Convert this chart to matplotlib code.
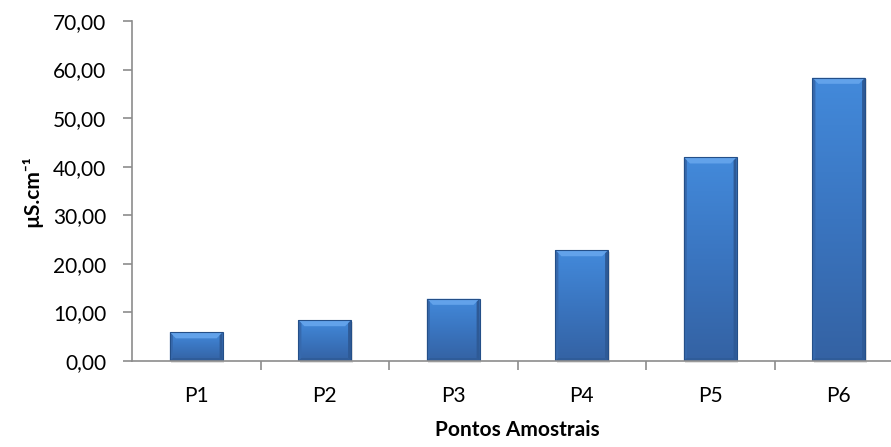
import numpy as np
import matplotlib.pyplot as plt
from matplotlib.patches import Polygon
from matplotlib.colors import LinearSegmentedColormap

# Dados
pontos = ["P1", "P2", "P3", "P4", "P5", "P6"]
condutividade = [5.9, 8.4, 12.8, 22.8, 41.9, 58.3]

plt.rcParams['font.family'] = ['Lato', 'DejaVu Sans']

fig = plt.figure(figsize=(8.91, 4.47), dpi=100)
ax = fig.add_axes([132/891, 1-361/447, 771/891, 340/447])

x = np.arange(len(pontos))
barras = ax.bar(x, condutividade, width=0.41, color='#3b7bc6',
                edgecolor='none', zorder=2)

# efeito de bisel (estilo Excel)
cmap = LinearSegmentedColormap.from_list('barra', ['#3462a3', '#3a75c0', '#438adb'])
grad = np.linspace(0, 1, 256).reshape(-1, 1)
px_x = 1/128.5
px_y = 70/340
b = 6
for r in barras:
    x0, y0 = r.get_x(), r.get_y()
    w, h = r.get_width(), r.get_height()
    bx, by = b*px_x, min(b*px_y, h/3)
    # sombra
    ax.add_patch(plt.Rectangle((x0+1.5*px_x, y0-1.5*px_y), w, h, color='#d0d0d0',
                               alpha=0.6, zorder=1, lw=0, clip_on=False))
    im = ax.imshow(grad, extent=(x0, x0+w, y0, y0+h), origin='lower', cmap=cmap,
                   aspect='auto', zorder=2.5)
    im.set_clip_path(r)
    topo = [(x0, y0+h), (x0+w, y0+h), (x0+w-bx, y0+h-by), (x0+bx, y0+h-by)]
    esq = [(x0, y0), (x0, y0+h), (x0+bx*0.5, y0+h-by*0.5), (x0+bx*0.5, y0+by*0.5)]
    dir_ = [(x0+w, y0), (x0+w, y0+h), (x0+w-bx*0.5, y0+h-by*0.5), (x0+w-bx*0.5, y0+by*0.5)]
    base = [(x0, y0), (x0+w, y0), (x0+w-bx*0.5, y0+by*0.5), (x0+bx*0.5, y0+by*0.5)]
    ax.add_patch(Polygon(topo, closed=True, color='#62a2ea', lw=0, zorder=3))
    ax.add_patch(Polygon(esq, closed=True, color='#3669ad', lw=0, zorder=3))
    ax.add_patch(Polygon(dir_, closed=True, color='#2e5a96', lw=0, zorder=3))
    ax.add_patch(Polygon(base, closed=True, color='#2f5c99', lw=0, zorder=3))
    ax.add_patch(plt.Rectangle((x0, y0), w, h, fill=False, ec='#244f88', lw=0.8, zorder=4))

ax.set_xlim(-0.5, len(pontos)-0.5)
ax.set_ylim(0, 70)

for s in ['top', 'right']:
    ax.spines[s].set_visible(False)
for s in ['left', 'bottom']:
    ax.spines[s].set_color('#8c8c8c')
    ax.spines[s].set_linewidth(1.2)
    ax.spines[s].set_zorder(5)

ax.set_yticks(np.arange(0, 71, 10))
ax.set_yticklabels([f"{v:.2f}".replace('.', ',') for v in np.arange(0, 71, 10)])
ax.set_xticks(x)
ax.set_xticklabels(pontos)
ax.tick_params(axis='x', length=0, pad=18, labelsize=15)
ax.set_xticks(np.arange(0.5, len(pontos)-0.5, 1), minor=True)
ax.tick_params(axis='x', which='minor', length=6.5, width=1.2, color='#8c8c8c')
ax.tick_params(axis='y', length=6.5, width=1.2, color='#8c8c8c', labelsize=15, pad=12)

ax.set_xlabel("Pontos Amostrais", fontsize=15, fontweight='bold', labelpad=10)
ax.set_ylabel("µS.cm⁻¹", fontsize=15, fontweight='bold', labelpad=8)

fig.savefig("out.png", dpi=100)
